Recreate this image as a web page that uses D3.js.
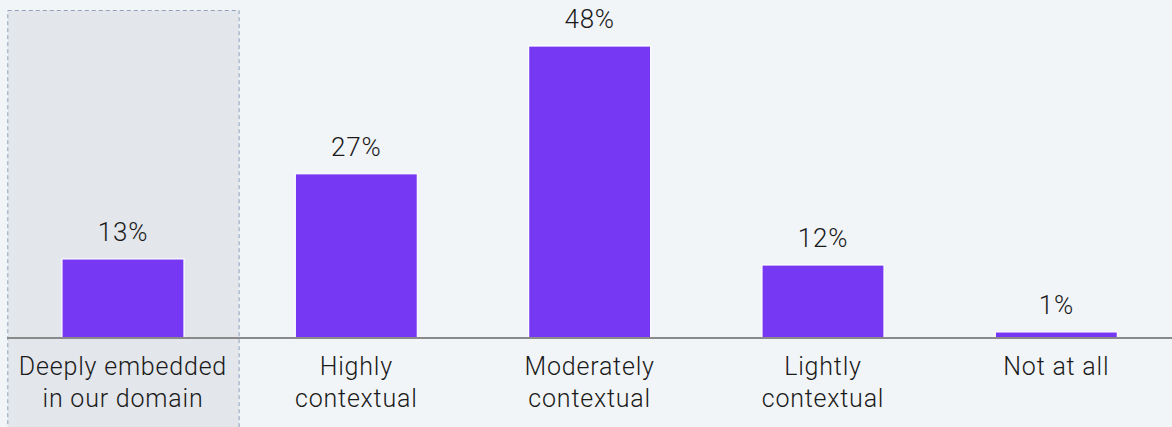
<!DOCTYPE html>
<html>
<head>
<meta charset="utf-8">
<script src="https://cdn.jsdelivr.net/npm/d3@7"></script>
<style>
  html, body { margin: 0; padding: 0; background: #f2f5f8; }
  svg { display: block; }
  text { font-family: Roboto, "Liberation Sans", sans-serif; font-weight: 300; fill: #1a1a1a; }
</style>
</head>
<body>
<svg id="chart" width="1172" height="427"></svg>
<script>
// Survey answers: how context-dependent the work is
const categories = [
  ["Deeply embedded", "in our domain"],
  ["Highly", "contextual"],
  ["Moderately", "contextual"],
  ["Lightly", "contextual"],
  ["Not at all"]
];
const values = [13, 27, 48, 12, 1];
const valueLabels = ["13%", "27%", "48%", "12%", "1%"];
const highlighted = 0;

const width = 1172, height = 427;
const baseY = 338;

const svg = d3.select("#chart");
svg.append("rect").attr("width", width).attr("height", height).attr("fill", "#f2f5f8");

const keys = categories.map((c, i) => i);
const x = d3.scaleBand()
  .domain(keys)
  .range([6.3, 1173])
  .paddingInner(0.477)
  .paddingOuter(0.2385);

const y = d3.scaleLinear().domain([0, 48]).range([baseY, 46]);

// highlighted column panel
const panelX0 = x(highlighted) - x.step() * x.paddingInner() / 2;
svg.append("rect")
  .attr("x", panelX0 + 1.5)
  .attr("y", 10.5)
  .attr("width", x.step() - 2)
  .attr("height", height)
  .attr("fill", "#e3e6eb")
  .attr("stroke", "#8ea2bb")
  .attr("stroke-width", 1)
  .attr("stroke-dasharray", "4,3");

// bars
svg.append("g").selectAll("rect")
  .data(values)
  .join("rect")
  .attr("x", (d, i) => x(i))
  .attr("y", d => y(d))
  .attr("width", x.bandwidth())
  .attr("height", d => baseY - y(d))
  .attr("fill", "#7638f2")
  .attr("stroke", "#ffffff")
  .attr("stroke-width", 1.2);

// baseline
svg.append("line")
  .attr("x1", 7).attr("x2", width)
  .attr("y1", baseY).attr("y2", baseY)
  .attr("stroke", "#8a8a8a")
  .attr("stroke-width", 2);

// value labels
svg.append("g").selectAll("text")
  .data(values)
  .join("text")
  .attr("x", (d, i) => x(i) + x.bandwidth() / 2)
  .attr("y", d => y(d) - 18)
  .attr("text-anchor", "middle")
  .attr("font-size", 26)
  .attr("letter-spacing", 0.8)
  .text((d, i) => valueLabels[i]);

// category labels
const cat = svg.append("g").selectAll("text")
  .data(categories)
  .join("text")
  .attr("x", (d, i) => x(i) + x.bandwidth() / 2)
  .attr("y", 375)
  .attr("text-anchor", "middle")
  .attr("font-size", 25)
  .attr("letter-spacing", 0.8);
cat.each(function(lines, i) {
  const t = d3.select(this);
  lines.forEach((line, j) => {
    t.append("tspan")
      .attr("x", x(i) + x.bandwidth() / 2)
      .attr("dy", j === 0 ? 0 : 32)
      .text(line);
  });
});
</script>
</body>
</html>
